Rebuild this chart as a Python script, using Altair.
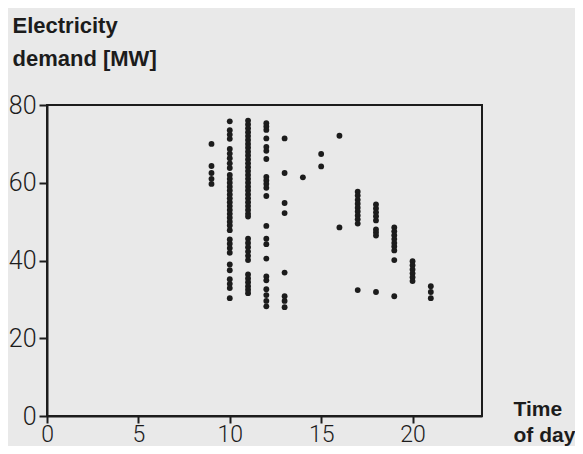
import altair as alt
import pandas as pd

# Time of day (hour) columns and electricity demand values [MW]
hours = [9, 10, 11, 12, 13, 14, 15, 16, 17, 18, 19, 20, 21]

h9 = [70.0, 64.3, 62.5, 61.0, 59.7]
h10 = [75.8, 73.5, 72.4, 71.3, 68.7, 67.5, 66.3, 65.0, 63.8, 62.0, 61.0, 60.0,
       59.0, 58.0, 57.0, 56.0, 55.0, 54.0, 53.0, 52.0, 51.0, 50.0, 49.0, 47.8,
       45.4, 44.3, 43.2, 42.0, 39.0, 37.5, 35.2, 34.0, 32.9, 30.3]
h11 = [76.0, 75.0, 74.0, 73.0, 72.0, 71.0, 70.0, 69.0, 68.0, 67.0, 66.0, 65.0,
       64.0, 63.0, 62.0, 61.0, 60.0, 59.0, 58.0, 57.0, 56.0, 55.0, 54.0, 53.0,
       52.0, 51.3, 45.6, 44.5, 43.4, 42.3, 41.2, 40.1, 36.4, 35.4, 34.4, 33.4,
       32.5, 31.6]
h12 = [75.3, 74.5, 73.6, 71.4, 69.2, 68.2, 66.1, 61.5, 60.6, 59.7, 58.7, 56.6,
       48.9, 45.6, 44.2, 40.5, 35.9, 34.9, 32.6, 31.1, 29.6, 28.2]
h13 = [71.4, 62.5, 54.8, 52.2, 36.9, 30.8, 29.6, 28.0]
h14 = [61.4]
h15 = [67.4, 64.2]
h16 = [72.1, 48.5]
h17 = [57.7, 56.7, 55.6, 54.6, 53.6, 52.6, 51.6, 50.6, 49.5, 32.4]
h18 = [54.4, 53.4, 52.4, 51.4, 50.3, 48.0, 47.2, 46.4, 31.9]
h19 = [48.5, 47.5, 46.5, 45.5, 44.5, 43.6, 42.6, 40.1, 30.8]
h20 = [39.8, 38.8, 37.7, 36.7, 35.7, 34.7]
h21 = [33.4, 31.9, 30.3]

x_ticks = [0, 5, 10, 15, 20]
y_ticks = [0, 20, 40, 60, 80]

columns = [h9, h10, h11, h12, h13, h14, h15, h16, h17, h18, h19, h20, h21]
rows = []
for h, vals in zip(hours, columns):
    for v in vals:
        rows.append({"hour": h, "demand": v})
df = pd.DataFrame(rows)

ink = "#1c1c1c"
label_font = "Roboto"
title_font = "Liberation Sans, Arial, Helvetica, sans-serif"

chart = alt.Chart(df).mark_circle(size=34, color=ink, opacity=1).encode(
    x=alt.X(
        "hour:Q",
        scale=alt.Scale(domain=[0, 23.8], nice=False, zero=False),
        axis=alt.Axis(
            values=x_ticks, format="d", grid=False,
            domainColor=ink, domainWidth=2, tickColor=ink, tickWidth=2, tickSize=7,
            labelFont=label_font, labelFontSize=23, labelFontWeight=300,
            labelColor=ink, labelBaseline="alphabetic", labelPadding=18,
            labelFlush=False, labelOverlap=False,
            title=["Time", "of day"], titleFont=title_font, titleFontSize=21,
            titleFontWeight="bold", titleColor=ink, titleAngle=0,
            titleAlign="left", titleBaseline="alphabetic", titleX=466, titleY=-1,
            titleLineHeight=26,
        ),
    ),
    y=alt.Y(
        "demand:Q",
        scale=alt.Scale(domain=[0, 80], nice=False),
        axis=alt.Axis(
            values=y_ticks, format="d", grid=False,
            domainColor=ink, domainWidth=2, tickColor=ink, tickWidth=2, tickSize=8,
            labelFont=label_font, labelFontSize=25, labelFontWeight=300,
            labelColor=ink, labelPadding=3,
            labelOverlap=False,
            title=["Electricity", "demand [MW]"], titleFont=title_font, titleFontSize=22,
            titleFontWeight="bold", titleColor=ink, titleAngle=0,
            titleAlign="left", titleBaseline="alphabetic", titleX=-35, titleY=-73,
            titleLineHeight=33,
        ),
    ),
).properties(
    width=435,
    height=311,
    background="#e9e9e9",
    padding={"left": 39, "top": 97, "right": 93, "bottom": 30},
    autosize=alt.AutoSizeParams(type="none"),
).configure_view(stroke=ink, strokeWidth=2)

chart.save("out.html", embed_options={"renderer": "svg", "actions": False})
